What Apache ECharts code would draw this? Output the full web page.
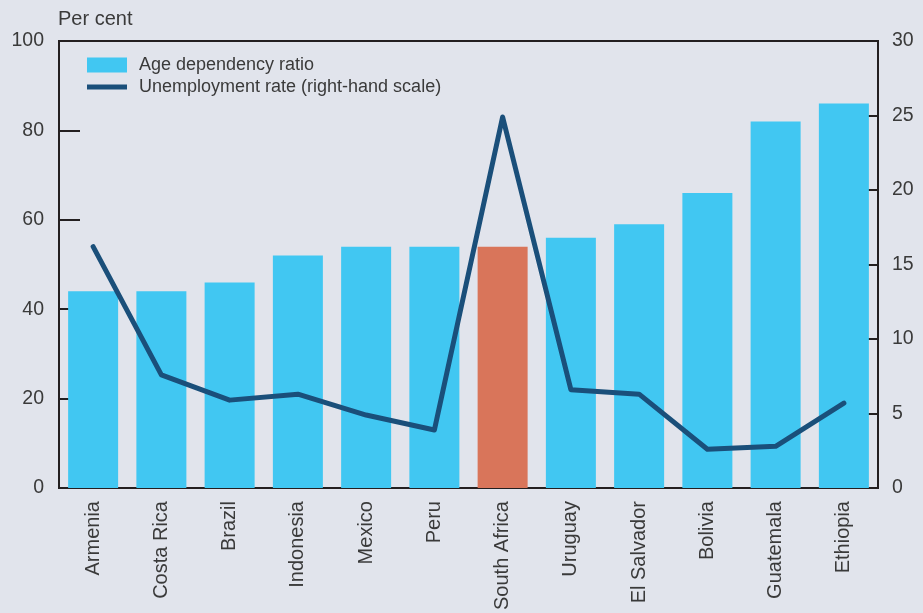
<!DOCTYPE html>
<html>
<head>
<meta charset="utf-8">
<style>
  html, body { margin: 0; padding: 0; background: #e1e4ec; }
  #chart { width: 923px; height: 613px; }
</style>
<script src="https://cdn.jsdelivr.net/npm/echarts@6/dist/echarts.min.js"></script>
</head>
<body>
<div id="chart"></div>
<script>
// Countries, ordered by age dependency ratio
const countries = ['Armenia', 'Costa Rica', 'Brazil', 'Indonesia', 'Mexico', 'Peru',
  'South Africa', 'Uruguay', 'El Salvador', 'Bolivia', 'Guatemala', 'Ethiopia'];
// Age dependency ratio, per cent (left scale)
const ageDependency = [44, 44, 46, 52, 54, 54, 54, 56, 59, 66, 82, 86];
// Unemployment rate, per cent (right scale)
const unemployment = [16.2, 7.6, 5.9, 6.3, 4.9, 3.9, 24.9, 6.6, 6.3, 2.6, 2.8, 5.7];
const highlighted = 'South Africa';

const FONT = '"Liberation Sans", Arial, sans-serif';
const TEXT = '#3a3a3a';
const AXIS = '#231f20';
const BAR = '#41c7f2';
const BAR_HI = '#d9755a';
const LINE = '#1a4f7a';

const chart = echarts.init(document.getElementById('chart'), null, { renderer: 'canvas' });

chart.setOption({
  backgroundColor: '#e1e4ec',
  animation: false,
  textStyle: { fontFamily: FONT, color: TEXT },
  grid: {
    left: 59, right: 45, top: 41, bottom: 123,
    show: true, borderColor: AXIS, borderWidth: 2, backgroundColor: 'transparent'
  },
  legend: [
    {
      data: [{ name: 'Age dependency ratio', icon: 'rect' }],
      left: 87, top: 56, itemWidth: 40, itemHeight: 15, itemGap: 12, padding: 0,
      textStyle: { fontFamily: FONT, fontSize: 18, color: TEXT, padding: [0, 0, 0, 7] }
    },
    {
      data: [{ name: 'Unemployment rate (right-hand scale)', icon: 'rect' }],
      left: 87, top: 78, itemWidth: 40, itemHeight: 5, itemGap: 12, padding: 0,
      textStyle: { fontFamily: FONT, fontSize: 18, color: TEXT, padding: [0, 0, 0, 7] }
    }
  ],
  graphic: [{
    type: 'text', left: 58, top: 9,
    style: { text: 'Per cent', fontFamily: FONT, fontSize: 20, fill: TEXT }
  }],
  xAxis: {
    type: 'category',
    data: countries,
    axisLine: { show: true, lineStyle: { color: AXIS, width: 2 } },
    axisTick: { show: false },
    axisLabel: { rotate: 90, margin: 13, fontSize: 20, color: TEXT, fontFamily: FONT, interval: 0 }
  },
  yAxis: [
    {
      type: 'value', min: 0, max: 100, interval: 20,
      splitLine: { show: false },
      axisLine: { show: true, lineStyle: { color: AXIS, width: 2 } },
      axisTick: { show: true, inside: true, length: 21, lineStyle: { color: AXIS, width: 2 } },
      axisLabel: { margin: 15, fontSize: 19.5, color: TEXT, fontFamily: FONT }
    },
    {
      type: 'value', min: 0, max: 30, interval: 5, position: 'right',
      splitLine: { show: false },
      axisLine: { show: true, lineStyle: { color: AXIS, width: 2 } },
      axisTick: { show: true, inside: true, length: 21, lineStyle: { color: AXIS, width: 2 } },
      axisLabel: { margin: 14, fontSize: 19.5, color: TEXT, fontFamily: FONT }
    }
  ],
  series: [
    {
      name: 'Age dependency ratio',
      type: 'bar',
      yAxisIndex: 0,
      barWidth: 50,
      itemStyle: { color: BAR },
      data: ageDependency.map((v, i) => ({
        value: v,
        itemStyle: { color: countries[i] === highlighted ? BAR_HI : BAR }
      }))
    },
    {
      name: 'Unemployment rate (right-hand scale)',
      type: 'line',
      yAxisIndex: 1,
      data: unemployment,
      symbol: 'none',
      itemStyle: { color: LINE },
      lineStyle: { color: LINE, width: 5, cap: 'round', join: 'round' },
      z: 3
    }
  ]
});
</script>
</body>
</html>
